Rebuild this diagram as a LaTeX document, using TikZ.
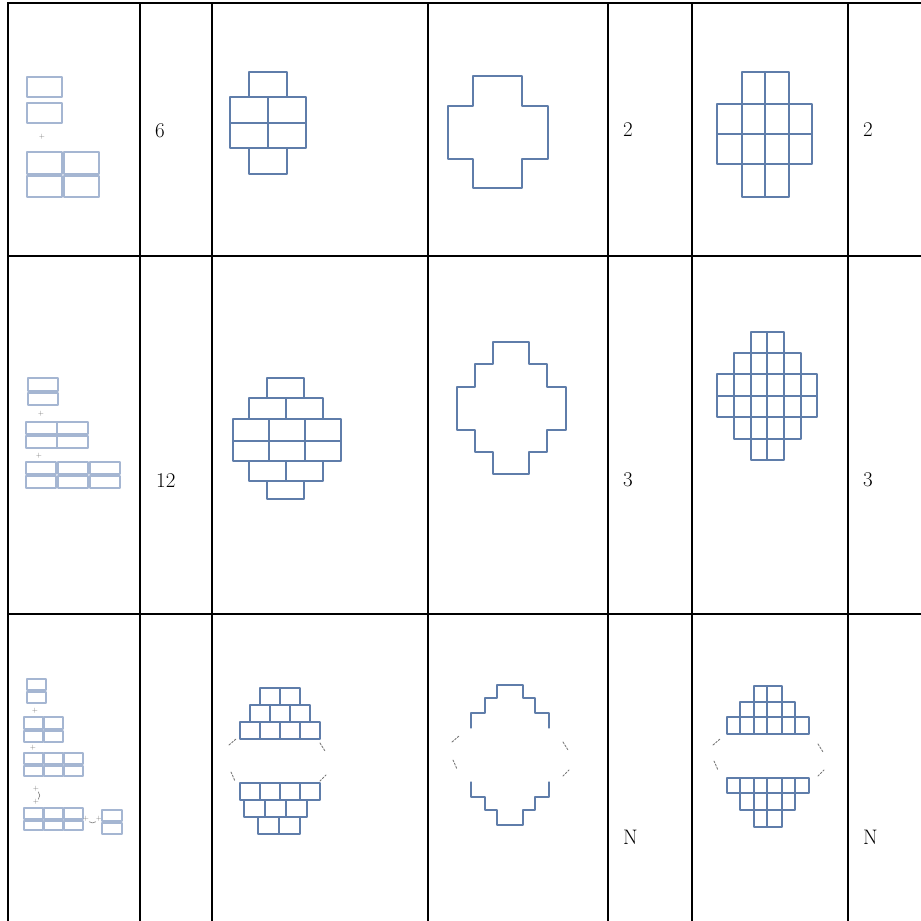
\documentclass[tikz,border=0pt]{standalone}
\usepackage{xcolor}
\definecolor{brickblue}{RGB}{95,125,170}
\definecolor{paleblue}{RGB}{165,182,210}
\definecolor{markgrey}{RGB}{120,120,120}

\begin{document}
\begin{tikzpicture}[x=1pt,y=-1pt,line cap=round,line join=round,
  rule/.style={line width=2pt,line cap=rect},
  brick/.style={draw=brickblue,line width=1.2pt},
  outline/.style={draw=brickblue,line width=1.8pt},
  small/.style={draw=paleblue,line width=1.4pt},
  gapmark/.style={draw=markgrey,line width=0.9pt,dash pattern=on 2pt off 1.5pt},
  count/.style={anchor=base west,inner sep=0pt,font=\fontsize{21}{24}\selectfont},
  plus/.style={inner sep=0pt,text=markgrey,font=\fontsize{7}{7}\selectfont}]
  \path[use as bounding box] (0,0) rectangle (921,921);

  % Table rules.
  \draw[rule] (8,3) -- (921,3);
  \draw[rule] (8,256) -- (921,256);
  \draw[rule] (8,614) -- (921,614);
  \foreach \x in {8,140,212,428,608,692,848}
    \draw[rule] (\x,3) -- (\x,921);

  % Row 1: sketch.
  \draw[small] (27,77) rectangle (62,97);
  \draw[small] (27,103) rectangle (62,123);
  \node[plus] (addA) at (42,137) {+};
  \foreach \x in {27,64} {
    \draw[small] (\x,152) rectangle ++(35,22);
    \draw[small] (\x,176) rectangle ++(35,21);
  }
  \node[count] (cntA) at (155,137) {6};

  % Row 1: bricks, outline, cells.
  \draw[brick] (249,72) rectangle (287,97);
  \draw[brick] (230,97) rectangle (306,148);
  \draw[brick] (230,123) -- (306,123);
  \draw[brick] (268,97) -- (268,148);
  \draw[brick] (249,148) rectangle (287,174);

  \draw[outline] (473,76) -- (522,76) -- (522,106) -- (548,106) -- (548,159)
    -- (522,159) -- (522,188) -- (473,188) -- (473,159) -- (448,159)
    -- (448,106) -- (473,106) -- cycle;
  \node[count] (symA) at (623,136) {2};

  \draw[brick] (742,72) rectangle (789,197);
  \draw[brick] (717,104) rectangle (812,164);
  \draw[brick] (765,72) -- (765,197);
  \draw[brick] (717,134) -- (812,134);
  \node[count] (rotA) at (863,136) {2};

  % Row 2: sketch.
  \draw[small] (28,378) rectangle (58,391);
  \draw[small] (28,393) rectangle (58,405);
  \node[plus] (addB) at (41,414) {+};
  \foreach \x in {26,57} {
    \draw[small] (\x,422) rectangle ++(31,12);
    \draw[small] (\x,436) rectangle ++(31,12);
  }
  \node[plus] (addC) at (39,456) {+};
  \foreach \x in {26,58,90} {
    \draw[small] (\x,462) rectangle ++(30,12);
    \draw[small] (\x,476) rectangle ++(30,12);
  }
  \node[count] (cntB) at (156,487) {12};

  % Row 2: bricks, outline, cells.
  \draw[brick] (267,378) rectangle (304,398);
  \draw[brick] (249,398) rectangle (323,419);
  \draw[brick] (286,398) -- (286,419);
  \draw[brick] (233,419) rectangle (341,461);
  \draw[brick] (233,441) -- (341,441);
  \draw[brick] (269,419) -- (269,461);
  \draw[brick] (305,419) -- (305,461);
  \draw[brick] (249,461) rectangle (323,481);
  \draw[brick] (286,461) -- (286,481);
  \draw[brick] (267,481) rectangle (304,499);

  \draw[outline,line width=1.5pt] (493,342) -- (529,342) -- (529,364) -- (547,364)
    -- (547,387) -- (566,387) -- (566,430) -- (547,430) -- (547,452)
    -- (529,452) -- (529,474) -- (493,474) -- (493,452) -- (475,452)
    -- (475,430) -- (457,430) -- (457,387) -- (475,387) -- (475,364)
    -- (493,364) -- cycle;
  \node[count] (symB) at (623,486) {3};

  \draw[brick] (751,332) rectangle (784,460);
  \draw[brick] (734,353) rectangle (801,439);
  \draw[brick] (717,374) rectangle (817,417);
  \draw[brick] (767,332) -- (767,460);
  \draw[brick] (717,396) -- (817,396);
  \node[count] (rotB) at (863,486) {3};

  % Row 3: sketch.
  \draw[small] (27,679) rectangle (46,690);
  \draw[small] (27,692) rectangle (46,703);
  \node[plus] (addD) at (35,711) {+};
  \foreach \x in {24,44} {
    \draw[small] (\x,717) rectangle ++(19,12);
    \draw[small] (\x,731) rectangle ++(19,11);
  }
  \node[plus] (addE) at (33,748) {+};
  \foreach \x in {24,44,64} {
    \draw[small] (\x,753) rectangle ++(19,11);
    \draw[small] (\x,766) rectangle ++(19,10);
    \draw[small] (\x,808) rectangle ++(19,11);
    \draw[small] (\x,821) rectangle ++(19,9);
  }
  \node[plus] (addF) at (36,789) {+};
  \node[plus] (addG) at (36,802) {+};
  \draw[markgrey,line width=0.6pt] (addF) to[bend left=40] (addG);
  \node[plus] (addH) at (86,819) {+};
  \node[plus] (addI) at (99,819) {+};
  \draw[markgrey,line width=0.6pt] (addH) to[bend right=40] (addI);
  \draw[small] (102,810) rectangle (122,821);
  \draw[small] (102,823) rectangle (122,834);

  % Row 3: bricks, outline, cells.
  \foreach \x in {260,280} \draw[brick] (\x,688) rectangle ++(20,17);
  \foreach \x in {250,270,290} \draw[brick] (\x,705) rectangle ++(20,17);
  \foreach \x in {240,260,280,300} \draw[brick] (\x,722) rectangle ++(20,17);
  \foreach \x in {240,260,280,300} \draw[brick] (\x,783) rectangle ++(20,17);
  \foreach \x in {244,265,286} \draw[brick] (\x,800) rectangle ++(21,17);
  \foreach \x in {258,279} \draw[brick] (\x,817) rectangle ++(21,17);
  \draw[gapmark] (229,745) -- ++(7,-6);
  \draw[gapmark] (231,772) -- ++(4,9);
  \draw[gapmark] (320,743) -- ++(5,8);
  \draw[gapmark] (320,781) -- ++(6,-6);

  \draw[brick] (471,728) -- (471,713) -- (485,713) -- (485,698) -- (497,698)
    -- (497,685) -- (523,685) -- (523,698) -- (535,698) -- (535,713)
    -- (549,713) -- (549,728);
  \draw[brick] (471,782) -- (471,797) -- (485,797) -- (485,810) -- (497,810)
    -- (497,825) -- (523,825) -- (523,810) -- (535,810) -- (535,797)
    -- (549,797) -- (549,782);
  \draw[gapmark] (452,742) -- ++(7,-6);
  \draw[gapmark] (453,760) -- ++(4,9);
  \draw[gapmark] (563,742) -- ++(5,8);
  \draw[gapmark] (563,776) -- ++(6,-6);
  \node[count] (symC) at (623,844) {N};

  \draw[brick] (754,686) rectangle (782,702);
  \draw[brick] (740,702) rectangle (795,717);
  \draw[brick] (727,717) rectangle (809,734);
  \draw[brick] (727,778) rectangle (809,793);
  \draw[brick] (740,793) rectangle (795,810);
  \draw[brick] (754,810) rectangle (782,827);
  \foreach \x in {740,754,767,782,795}
    \draw[brick] (\x,717) -- (\x,734) (\x,778) -- (\x,793);
  \foreach \x in {754,767,782}
    \draw[brick] (\x,702) -- (\x,717) (\x,793) -- (\x,810);
  \draw[brick] (767,686) -- (767,702) (767,810) -- (767,827);
  \draw[gapmark] (713,745) -- ++(7,-6);
  \draw[gapmark] (714,761) -- ++(4,9);
  \draw[gapmark] (818,744) -- ++(5,8);
  \draw[gapmark] (818,776) -- ++(6,-6);
  \node[count] (rotC) at (863,844) {N};
\end{tikzpicture}
\end{document}
